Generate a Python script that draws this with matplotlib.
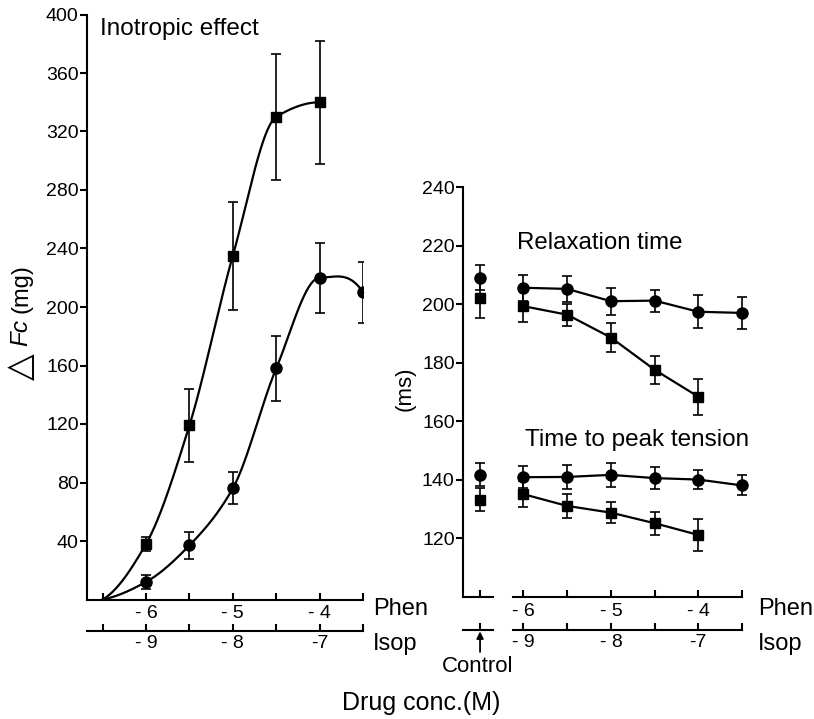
import numpy as np
import matplotlib
matplotlib.use("Agg")
import matplotlib.pyplot as plt

plt.rcParams['font.family'] = ['Liberation Sans', 'DejaVu Sans']

# --- data (Phen log conc.; Isop = Phen - 3) ---
ino_x_sq = [-6, -5.5, -5, -4.5, -4]
ino_sq = [38, 119, 235, 330, 340]
ino_sq_err = [5, 25, 37, 43, 42]
ino_x_ci = [-6, -5.5, -5, -4.5, -4, -3.5]
ino_ci = [12, 37, 76, 158, 220, 210]
ino_ci_err = [5, 9, 11, 22, 24, 21]
curve_start = (-6.5, 0)

rel_x_ci = [-6, -5.5, -5, -4.5, -4, -3.5]
rel_ci = [205.6, 205.2, 201, 201.2, 197.4, 197]
rel_ci_err = [4.5, 4.3, 4.6, 3.8, 5.6, 5.4]
rel_x_sq = [-6, -5.5, -5, -4.5, -4]
rel_sq = [199.3, 196.4, 188.6, 177.6, 168.4]
rel_sq_err = [5.5, 3.7, 4.8, 4.8, 6.2]
rel_ctrl_ci, rel_ctrl_ci_err = 209, 4.2
rel_ctrl_sq, rel_ctrl_sq_err = 202, 6.6

ttp_x_ci = [-6, -5.5, -5, -4.5, -4, -3.5]
ttp_ci = [140.9, 141.0, 141.7, 140.6, 140.1, 138.1]
ttp_ci_err = [3.7, 4.0, 4.0, 3.8, 3.3, 3.4]
ttp_x_sq = [-6, -5.5, -5, -4.5, -4]
ttp_sq = [135.1, 131.1, 128.8, 125.2, 121.2]
ttp_sq_err = [4.5, 4.0, 3.7, 3.9, 5.6]
ttp_ctrl_ci, ttp_ctrl_ci_err = 141.7, 3.9
ttp_ctrl_sq, ttp_ctrl_sq_err = 133.2, 3.9

phen_ticks = [-6.5, -6, -5.5, -5, -4.5, -4, -3.5]
phen_labels = ['', '- 6', '', '- 5', '', '- 4', '']
isop_ticks = [t - 3 for t in phen_ticks]
isop_labels = ['', '- 9', '', '- 8', '', '-7', '']


def pchip(x, y, xs):
    # smooth monotone curve through the points (hand-drawn fit lines)
    x = np.asarray(x, float); y = np.asarray(y, float)
    n = len(x); h = np.diff(x); dl = np.diff(y) / h
    d = np.zeros(n)
    for k in range(1, n - 1):
        if dl[k - 1] * dl[k] > 0:
            w1 = 2 * h[k] + h[k - 1]; w2 = h[k] + 2 * h[k - 1]
            d[k] = (w1 + w2) / (w1 / dl[k - 1] + w2 / dl[k])
    for k, (ha, hb, da, db) in [(0, (h[0], h[1], dl[0], dl[1])),
                                (n - 1, (h[-1], h[-2], dl[-1], dl[-2]))]:
        v = ((2 * ha + hb) * da - ha * db) / (ha + hb)
        d[k] = 0 if v * da <= 0 else v
    i = np.clip(np.searchsorted(x, xs) - 1, 0, n - 2)
    t = (xs - x[i]) / h[i]
    h00 = 2 * t**3 - 3 * t**2 + 1; h10 = t**3 - 2 * t**2 + t
    h01 = -2 * t**3 + 3 * t**2; h11 = t**3 - t**2
    return h00 * y[i] + h10 * h[i] * d[i] + h01 * y[i + 1] + h11 * h[i] * d[i + 1]


W, H = 814, 719


def box(x0, y0, x1, y1):
    return [x0 / W, 1 - y1 / H, (x1 - x0) / W, (y1 - y0) / H]


def ftxt(x, y, s, **kw):
    fig.text(x / W, 1 - y / H, s, **kw)


fig = plt.figure(figsize=(8.14, 7.19), dpi=100)
lw = 1.5
tfs = 14
sq_ms, ci_ms = 7, 8
ebkw = dict(color='k', ecolor='k', elinewidth=1.2, capsize=3.5, capthick=1.2)


def style(ax, left=True):
    for s in ['top', 'right']:
        ax.spines[s].set_visible(False)
    for s in ['left', 'bottom']:
        ax.spines[s].set_linewidth(lw)
    ax.spines['left'].set_visible(left)
    ax.tick_params(axis='y', direction='out', length=5, width=lw, labelsize=tfs, pad=1)
    ax.tick_params(axis='x', direction='in', length=5, width=lw, labelsize=tfs, pad=4)


def isop_axis(ax, loc, ticks, labels):
    sec = ax.secondary_xaxis(loc, functions=(lambda v: v - 3, lambda v: v + 3))
    sec.spines['bottom'].set_linewidth(lw)
    sec.set_xticks(ticks, labels)
    sec.tick_params(direction='in', length=5, width=lw, labelsize=tfs, pad=3)
    return sec


# --- left panel: inotropic effect ---
ax1 = fig.add_axes(box(87, 14.5, 363, 599.5))
style(ax1)
ax1.set_xlim(-6.68, -3.5)
ax1.set_ylim(0, 400)
ax1.set_yticks(range(40, 401, 40))
ax1.set_xticks(phen_ticks, phen_labels)
for xs_, ys_, es_, m, ms in [(ino_x_sq, ino_sq, ino_sq_err, 's', sq_ms),
                             (ino_x_ci, ino_ci, ino_ci_err, 'o', ci_ms)]:
    cx = [curve_start[0]] + xs_
    cy = [curve_start[1]] + ys_
    xx = np.linspace(cx[0], cx[-1], 300)
    ax1.plot(xx, pchip(cx, cy, xx), color='k', lw=1.6, clip_on=False)
    ax1.errorbar(xs_, ys_, yerr=es_, fmt=m, ms=ms, **ebkw)
isop_axis(ax1, -0.054, isop_ticks, isop_labels)

# --- right panel: control ---
axc = fig.add_axes(box(463, 187, 493, 597))
style(axc)
axc.set_xlim(-1, 0.76)
axc.set_ylim(100, 240)
axc.set_yticks(range(120, 241, 20))
axc.set_xticks([0], [''])
axc.errorbar([0], [rel_ctrl_sq], yerr=[rel_ctrl_sq_err], fmt='s', ms=sq_ms, **ebkw)
axc.errorbar([0], [rel_ctrl_ci], yerr=[rel_ctrl_ci_err], fmt='o', ms=ci_ms, **ebkw)
axc.errorbar([0], [ttp_ctrl_sq], yerr=[ttp_ctrl_sq_err], fmt='s', ms=sq_ms, **ebkw)
axc.errorbar([0], [ttp_ctrl_ci], yerr=[ttp_ctrl_ci_err], fmt='o', ms=ci_ms, **ebkw)
secc = axc.secondary_xaxis(-0.08)
secc.spines['bottom'].set_linewidth(lw)
secc.set_xticks([0], [''])
secc.tick_params(direction='in', length=5, width=lw)
axc.annotate('', xy=(0, -0.084), xytext=(0, -0.134),
             xycoords=('data', 'axes fraction'), textcoords=('data', 'axes fraction'),
             arrowprops=dict(arrowstyle='-|>', lw=1.3, color='k', mutation_scale=10,
                             shrinkA=0, shrinkB=0))

# --- right panel: main ---
ax2 = fig.add_axes(box(513, 187, 742, 597))
style(ax2, left=False)
ax2.set_xlim(-6.12, -3.5)
ax2.set_ylim(100, 240)
ax2.set_yticks([])
ax2.set_xticks(phen_ticks[1:], phen_labels[1:])
for xs_, ys_, es_, m, ms in [(rel_x_ci, rel_ci, rel_ci_err, 'o', ci_ms),
                             (rel_x_sq, rel_sq, rel_sq_err, 's', sq_ms),
                             (ttp_x_ci, ttp_ci, ttp_ci_err, 'o', ci_ms),
                             (ttp_x_sq, ttp_sq, ttp_sq_err, 's', sq_ms)]:
    ax2.errorbar(xs_, ys_, yerr=es_, fmt='-' + m, ms=ms, lw=1.6, clip_on=False, **ebkw)
isop_axis(ax2, -0.08, isop_ticks[1:], isop_labels[1:])

# --- text ---
ftxt(100, 29, 'Inotropic effect', fontsize=17.5, va='center')
ftxt(517, 243, 'Relaxation time', fontsize=17.3, va='center')
ftxt(525, 440, 'Time to peak tension', fontsize=17.5, va='center')
for x0 in (373, 758):
    ftxt(x0, 609, 'Phen', fontsize=17, va='center')
    ftxt(x0, 644, 'Isop', fontsize=17, va='center')
ftxt(478, 667, 'Control', fontsize=16, ha='center', va='center')
ftxt(421, 703, 'Drug conc.(M)', fontsize=18, ha='center', va='center')
ftxt(21, 367, '\u25b3', fontsize=25, rotation=90, ha='center', va='center',
     family='DejaVu Sans')
ftxt(21, 332, 'Fc', fontsize=17.5, rotation=90, ha='center', va='center', style='italic')
ftxt(21, 289, '(mg)', fontsize=17, rotation=90, ha='center', va='center')
ftxt(405, 389, '(ms)', fontsize=16, rotation=90, ha='center', va='center')

fig.savefig('out.png', dpi=100)
